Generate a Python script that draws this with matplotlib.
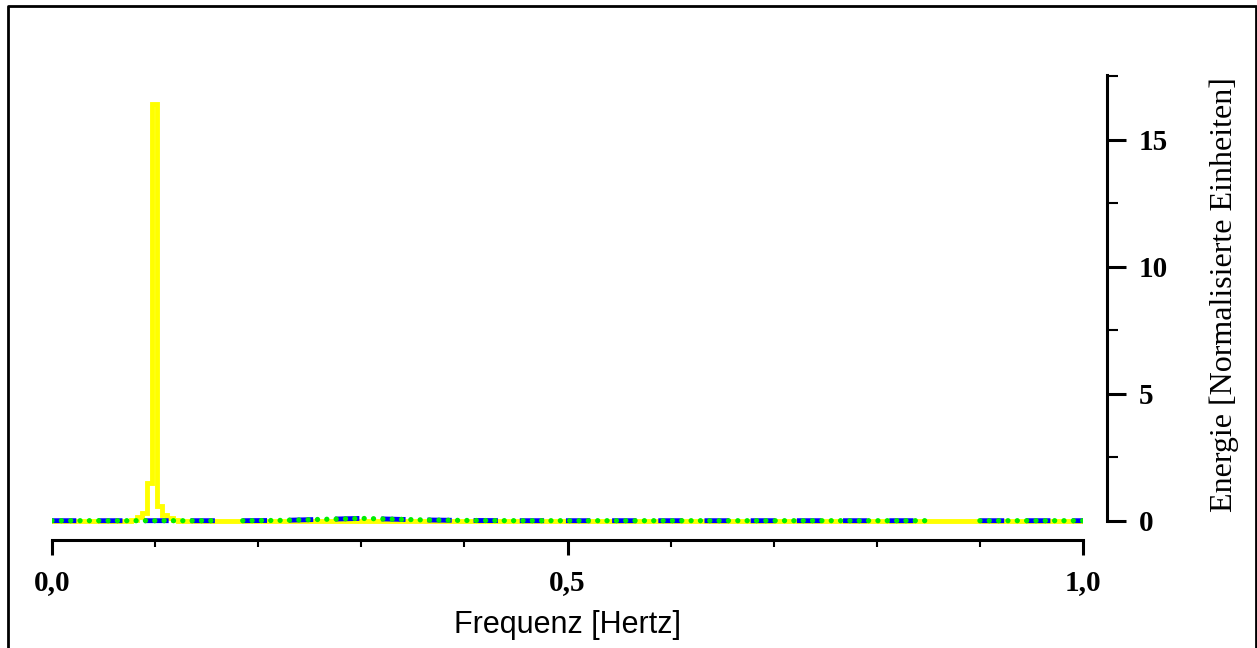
import numpy as np
import matplotlib.pyplot as plt
from matplotlib.lines import Line2D
from matplotlib.ticker import MultipleLocator, FuncFormatter

# yellow spectrum (steps), peak near 0.1 Hz
freq_yellow = [0.0, 0.0745, 0.0795, 0.0845, 0.0895, 0.0945, 0.0995, 0.1045,
               0.1095, 0.1145, 0.1195, 0.1245, 1.0]
energy_yellow = [0.0, 0.0, 0.05, 0.15, 0.3, 1.5, 16.4, 0.6,
                 0.25, 0.1, 0.03, 0.0, 0.0]

# blue / green series (almost flat, small bump around 0.3 Hz, two gaps)
freq_bg = [0.0, 0.05, 0.1, 0.13, 0.163, 0.174, 0.185, 0.22, 0.25, 0.28, 0.30,
           0.33, 0.36, 0.40, 0.45, 0.5, 0.6, 0.7, 0.8, 0.85, 0.875, 0.9,
           0.95, 1.0]
energy_blue = [0.01, 0.01, 0.01, 0.01, 0.01, np.nan, 0.01, 0.02, 0.05, 0.08,
               0.1, 0.07, 0.04, 0.02, 0.01, 0.01, 0.01, 0.01, 0.01, 0.01,
               np.nan, 0.01, 0.01, 0.01]
energy_green = energy_blue

xticks = [0.0, 0.5, 1.0]
yticks = [0, 5, 10, 15]

fig = plt.figure(figsize=(12.57, 6.48), dpi=100)
ax = fig.add_axes([52 / 1257, 108 / 648, 1031 / 1257, 465 / 648])

ax.plot(freq_yellow, energy_yellow, color='#ffff00', lw=3.5, drawstyle='steps-mid',
        solid_joinstyle='miter', zorder=2)
ax.plot(freq_bg, energy_blue, color='#0000ff', lw=3.5, linestyle=(0, (5, 4.5)),
        dash_capstyle='butt', zorder=3)
ax.plot(freq_bg, energy_green, color='#00ee00', lw=3.8, linestyle=(0, (0.01, 1.76)),
        dash_capstyle='round', zorder=4)

ax.set_xlim(0, 1.0)
ax.set_ylim(-0.75, 17.55)

for s in ['top', 'left']:
    ax.spines[s].set_visible(False)
ax.spines['bottom'].set_linewidth(2.2)
ax.spines['right'].set_linewidth(2.2)
ax.spines['right'].set_position(('outward', 17))
ax.spines['right'].set_bounds(0, 17.55)

ax.yaxis.tick_right()
ax.yaxis.set_label_position('right')

ax.set_xticks(xticks)
ax.xaxis.set_minor_locator(MultipleLocator(0.1))
ax.set_yticks(yticks)
ax.yaxis.set_minor_locator(MultipleLocator(2.5))
ax.xaxis.set_major_formatter(FuncFormatter(lambda v, p: f'{v:.1f}'.replace('.', ',')))

ax.tick_params(axis='x', which='major', length=11, width=2.2, direction='out', pad=10)
ax.tick_params(axis='x', which='minor', length=5, width=1.5, direction='out')
ax.tick_params(axis='y', which='major', length=14, width=2.2, direction='out', pad=9)
ax.tick_params(axis='y', which='minor', length=8, width=1.5, direction='out')

for lab in ax.get_xticklabels() + ax.get_yticklabels():
    lab.set_fontfamily('Liberation Serif')
    lab.set_fontweight('bold')
    lab.set_fontsize(21)

ax.set_xlabel('Frequenz [Hertz]', fontfamily='Liberation Sans', fontsize=22)
ax.xaxis.set_label_coords(0.5, -0.15)
ax.set_ylabel('Energie [Normalisierte Einheiten]', fontfamily='Liberation Serif',
              fontsize=23, rotation=90)
ax.yaxis.set_label_coords(1.123, 0.527)

# outer frame (left, top, right)
W, H = 1257, 648
fx = [8 / W, 8 / W, 1256 / W, 1256 / W]
fy = [0, 1 - 6 / H, 1 - 6 / H, 0]
fig.add_artist(Line2D(fx, fy, color='black', lw=2, transform=fig.transFigure))

fig.savefig('out.png', dpi=100)
